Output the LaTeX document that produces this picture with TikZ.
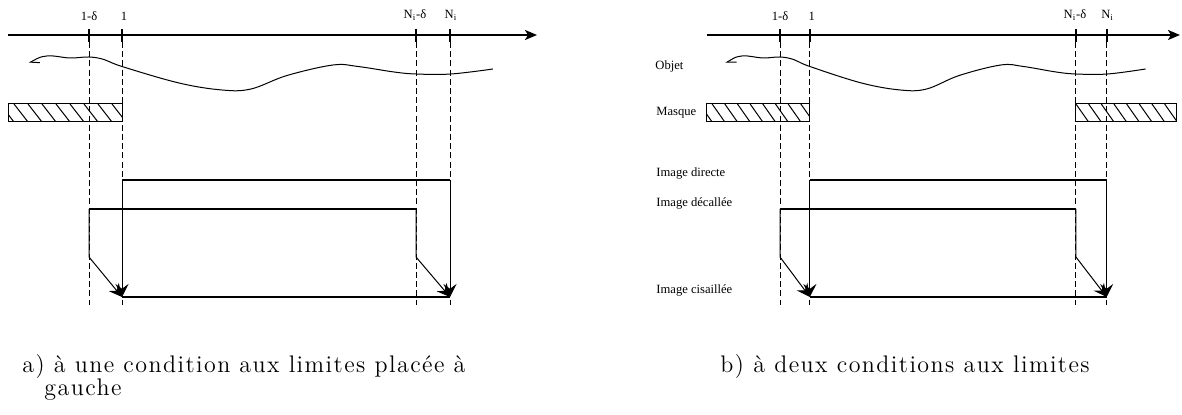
\documentclass[tikz,border=0pt]{standalone}
\usepackage{fontspec}
\newfontfamily\tms{Liberation Serif}
\newfontfamily\capfont[LetterSpace=6]{Latin Modern Roman}
\usetikzlibrary{arrows.meta}
\newcommand\panelbody[2]{%
  \coordinate (#1ax0) at (8,35);
  \coordinate (#1ax1) at (#2,35);
  \draw[axisline] (#1ax0) -- (#1ax1);
  \foreach \n/\x in {a/89,b/122,c/416,d/450}{
    \coordinate (#1\n-t) at (\x,29);
    \coordinate (#1\n-m) at (\x,42);
    \coordinate (#1\n-e) at (\x,305);
    \draw[tickline] (#1\n-t) -- (#1\n-m);
    \draw[guide] (#1\n-m) -- (#1\n-e);
  }
  \node[lbl] (#1la) at (89,16) {1-δ};
  \node[lbl] (#1lb) at (124,16) {1};
  \node[lbl] (#1lc) at (415,15) {N\textsubscript{i}-δ};
  \node[lbl] (#1ld) at (451,15) {N\textsubscript{i}};
  \draw[thinline,{Straight Barb[harpoon,length=4pt,width=5pt]}-] plot[smooth,tension=0.6] coordinates
    {(29,63) (47,56) (70,58) (89,57) (104,59.5) (122,66.5) (179,83) (222,90) (251,89)
     (287,75.5) (333,65) (358,66.5) (394,72) (416,74) (451,74) (493,69)};
  \begin{scope}
    \clip (8,104) rectangle (122,122);
    \foreach \h in {-14,0,...,126} \draw[thinline] (\h,104) -- (\h+14,122);
  \end{scope}
  \draw[thinline] (8,104) rectangle (122,122);
  \coordinate (#1di0) at (122,180);
  \coordinate (#1di1) at (450,180);
  \coordinate (#1de0) at (89,209);
  \coordinate (#1de1) at (416,209);
  \coordinate (#1k0) at (89,257);
  \coordinate (#1k1) at (416,257);
  \coordinate (#1bo0) at (122,297);
  \coordinate (#1bo1) at (450,297);
  \draw[imgline] (#1di0) -- (#1di1);
  \draw[imgline] (#1de0) -- (#1de1);
  \draw[imgline] (#1bo0) -- (#1bo1);
  \draw[arr] (#1di0) -- (#1bo0);
  \draw[arr] (#1di1) -- (#1bo1);
  \draw[arr] (#1de0) -- (#1k0) -- (#1bo0);
  \draw[arr] (#1de1) -- (#1k1) -- (#1bo1);
}
\begin{document}
\begin{tikzpicture}[x=0.5pt,y=-0.5pt,
  axisline/.style={line width=1pt,-{Stealth[length=6pt,width=5pt,inset=1.5pt]}},
  tickline/.style={line width=1pt},
  guide/.style={line width=0.45pt,dash pattern=on 3pt off 1.6pt},
  imgline/.style={line width=1.2pt},
  thinline/.style={line width=0.5pt},
  arr/.style={line width=0.5pt,-{Stealth[length=6.5pt,width=6.5pt,inset=2.4pt]}},
  lbl/.style={font=\tms\fontsize{6.3}{7}\selectfont,inner sep=0pt},
  side/.style={font=\tms\fontsize{6.3}{7}\selectfont,inner sep=0pt,anchor=west},
  captext/.style={font=\capfont\fontsize{12}{14}\selectfont,inner sep=0pt,anchor=base west},
]
\useasboundingbox (0,0) rectangle (1182,415);
\begin{scope}
  \panelbody{L}{537}
\end{scope}
\begin{scope}[xshift=349.725pt,xscale=0.905]
  \panelbody{R}{531}
  \begin{scope}
    \clip (416,104) rectangle (527.5,122);
    \foreach \h in {402,416,...,530} \draw[thinline] (\h,104) -- (\h+14,122);
  \end{scope}
  \draw[thinline] (416,104) rectangle (527.5,122);
\end{scope}
\node[side] (objet) at (655,66) {Objet};
\node[side] (masque) at (656,113) {Masque};
\node[side] (idir) at (656,173) {Image directe};
\node[side] (idec) at (656,203) {Image décallée};
\node[side] (icis) at (656,290) {Image cisaillée};
\node[captext] (capa) at (22,373) {\makebox[221.5pt][s]{a) à une condition aux limites placée à}};
\node[captext] (capa2) at (44,396) {gauche};
\node[captext] (capb) at (720,373) {b) à deux conditions aux limites};
\end{tikzpicture}
\end{document}
